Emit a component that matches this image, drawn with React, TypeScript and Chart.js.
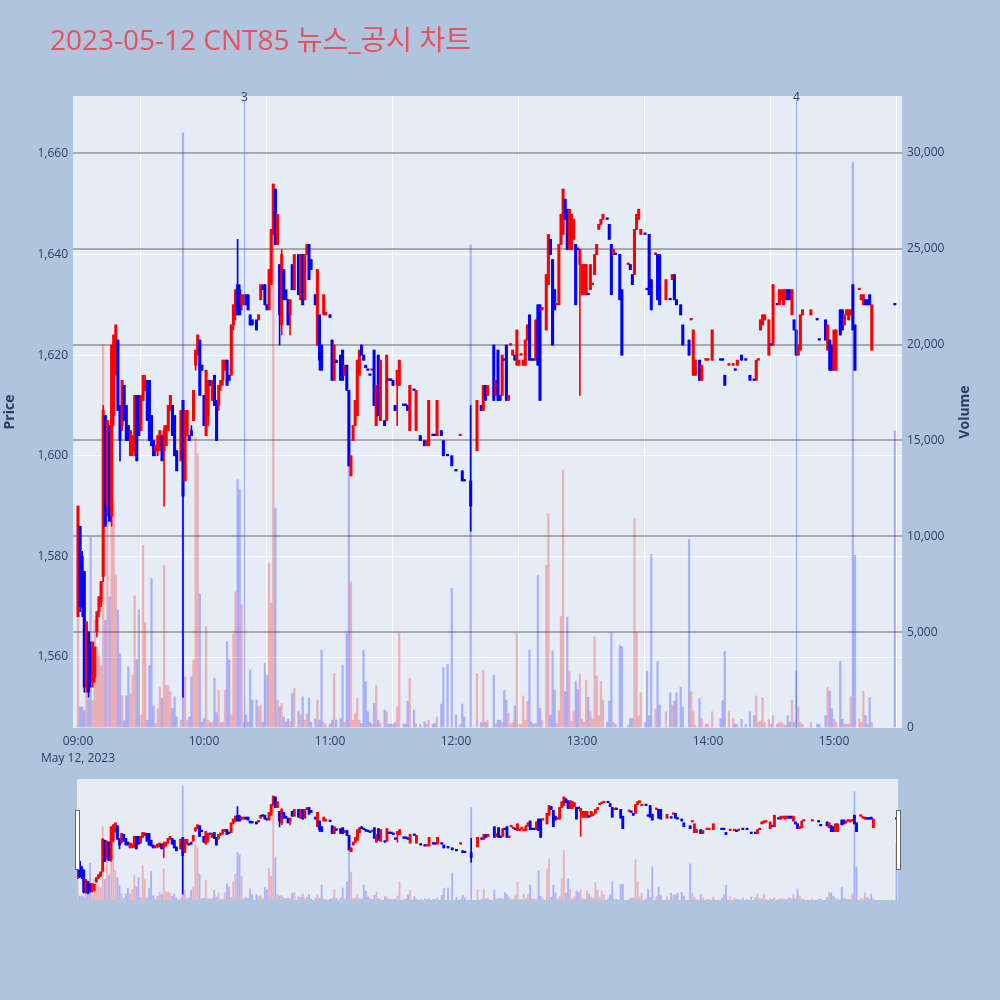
import React, { useEffect, useRef } from "react";
import { Chart, registerables } from "chart.js";

Chart.register(...registerables);

// ---------- data (minutes after 09:00) ----------
const minuteIdx = [
  0, 1, 2, 3, 4, 5, 6, 7, 8, 9,
  10, 11, 12, 13, 14, 15, 16, 17, 18, 19,
  20, 21, 22, 23, 24, 25, 26, 27, 28, 29,
  30, 31, 32, 33, 34, 35, 36, 37, 38, 39,
  40, 41, 42, 43, 44, 45, 46, 47, 49, 50,
  51, 52, 53, 54, 55, 56, 57, 58, 59, 60,
  61, 62, 63, 64, 65, 66, 67, 68, 69, 70,
  71, 72, 73, 74, 75, 76, 77, 78, 79, 80,
  81, 82, 83, 85, 86, 87, 88, 89, 90, 91,
  92, 93, 94, 95, 96, 97, 98, 99, 100, 101,
  102, 103, 105, 106, 107, 108, 109, 110, 111, 113,
  114, 115, 116, 117, 118, 120, 121, 122, 123, 125,
  126, 127, 128, 129, 130, 131, 132, 133, 134, 135,
  136, 137, 138, 139, 140, 141, 142, 143, 144, 146,
  147, 148, 149, 150, 151, 152, 153, 155, 156, 157,
  158, 160, 161, 163, 165, 166, 167, 169, 170, 171,
  173, 174, 176, 178, 180, 182, 183, 184, 187, 190,
  192, 193, 194, 195, 198, 199, 200, 201, 202, 203,
  204, 205, 206, 207, 208, 209, 210, 211, 212, 213,
  214, 215, 216, 217, 218, 219, 220, 221, 223, 224,
  225, 226, 227, 228, 229, 230, 231, 232, 233, 234,
  235, 236, 237, 238, 239, 240, 241, 242, 243, 244,
  245, 246, 247, 248, 249, 250, 252, 253, 254, 255,
  256, 258, 259, 262, 263, 264, 265, 266, 267, 268,
  270, 271, 272, 273, 275, 276, 277, 280, 282, 283,
  284, 285, 287, 288, 291, 292, 293, 294, 296, 297,
  299, 300, 302, 306, 307, 308, 310, 312, 313, 314,
  316, 318, 320, 322, 323, 324, 325, 326, 327, 329,
  330, 331, 333, 334, 335, 336, 337, 338, 339, 340,
  341, 342, 343, 344, 345, 349, 352, 353, 356, 357,
  358, 359, 360, 361, 363, 364, 365, 366, 367, 368,
  369, 370, 372, 373, 374, 375, 376, 377, 378, 389,
];

const openP = [
  1568, 1586, 1580, 1577, 1554, 1565, 1562, 1555, 1556, 1565,
  1569, 1571, 1576, 1608, 1590, 1606, 1588, 1608, 1617, 1623,
  1610, 1606, 1614, 1610, 1606, 1600, 1601, 1601, 1612, 1612,
  1605, 1611, 1613, 1615, 1615, 1608, 1603, 1601, 1601, 1602,
  1604, 1601, 1602, 1605, 1609, 1610, 1608, 1601, 1599, 1611,
  1595, 1604, 1604, 1605, 1607, 1618, 1620, 1623, 1618, 1612,
  1604, 1608, 1615, 1611, 1616, 1611, 1610, 1614, 1615, 1617,
  1619, 1616, 1616, 1626, 1628, 1634, 1633, 1630, 1630, 1632,
  1632, 1628, 1627, 1627, 1627, 1631, 1633.5, 1634, 1630, 1629,
  1634, 1644, 1653, 1642, 1638, 1626, 1637, 1633, 1631, 1628,
  1638, 1633, 1640, 1631, 1640, 1631, 1640, 1642, 1639, 1632,
  1622, 1628, 1622, 1628, 1628, 1628, 1623, 1615, 1619, 1620,
  1621, 1616, 1618, 1613, 1596, 1603, 1606, 1608, 1616, 1622,
  1620, 1618, 1617.2, 1616.2, 1617, 1621, 1606, 1620, 1607, 1607,
  1607, 1615.2, 1615.2, 1615, 1610, 1614, 1614, 1610.2, 1610.2, 1610,
  1605, 1613.2, 1605, 1604, 1603, 1602, 1602, 1604.2, 1604.2, 1604,
  1605, 1603, 1600.2, 1600, 1597.2, 1604, 1597, 1595.2, 1595, 1601,
  1610, 1609, 1614, 1612, 1622, 1612, 1621, 1612, 1612, 1619.2,
  1622, 1611, 1622, 1620, 1620, 1618, 1618, 1620, 1618, 1618,
  1623, 1628, 1619.2, 1619.2, 1619, 1630, 1630, 1629, 1625, 1634,
  1643, 1639, 1633, 1630, 1630, 1642, 1644, 1651, 1649, 1641,
  1641, 1643, 1642, 1641.2, 1638, 1632, 1632, 1632, 1632.2, 1633,
  1634, 1636, 1640, 1645, 1646, 1647, 1647.2, 1646, 1642, 1640,
  1640.2, 1640, 1633, 1638, 1638, 1636, 1636, 1645, 1647, 1644,
  1644.2, 1633.2, 1644, 1635, 1640, 1640, 1640, 1631, 1631.2, 1635,
  1636, 1631, 1630, 1626, 1623, 1627, 1616, 1616, 1619, 1615,
  1619, 1619, 1619, 1619.2, 1619.2, 1616, 1618, 1618, 1617.2, 1618,
  1620, 1619.2, 1616, 1615.2, 1615, 1619, 1625, 1626, 1627, 1620,
  1622.2, 1622, 1630.2, 1630, 1631, 1630, 1631, 1633, 1633, 1628,
  1627, 1625, 1620, 1621, 1628, 1628, 1627.2, 1623.2, 1627, 1621,
  1623, 1622, 1617, 1617, 1629, 1629, 1626, 1628, 1627, 1628,
  1634, 1626, 1633, 1631, 1630, 1631, 1631, 1632, 1621, 1630.3,
];

const highP = [
  1590, 1586, 1581, 1577, 1567, 1565, 1563, 1563, 1562, 1569,
  1572, 1575, 1610, 1608, 1607, 1606, 1622, 1624, 1626, 1623,
  1610, 1615, 1614, 1610, 1606, 1605, 1604, 1612, 1612, 1612,
  1612, 1616, 1616, 1615, 1615, 1608, 1603, 1602, 1604, 1605,
  1604, 1606, 1606, 1610, 1612, 1610, 1608, 1601, 1609, 1611,
  1609, 1609, 1604, 1606, 1613, 1621, 1624, 1623, 1618, 1612,
  1617, 1615, 1615, 1615, 1616, 1611, 1614, 1615, 1619, 1619,
  1619, 1616, 1626, 1630, 1633, 1643, 1634, 1632, 1632, 1632,
  1632, 1628, 1627, 1627, 1628, 1634, 1634, 1634, 1630, 1637,
  1645, 1654, 1653, 1648, 1638, 1641, 1637, 1633, 1631, 1631,
  1638, 1640, 1640, 1640, 1640, 1640, 1642, 1642, 1639, 1632,
  1637, 1628, 1622, 1632, 1628.5, 1628, 1623, 1622, 1619, 1620,
  1621, 1618, 1618, 1613, 1600, 1606, 1611, 1619, 1621, 1622,
  1620, 1618, 1617.2, 1616.2, 1617.2, 1621, 1614, 1620, 1619, 1607,
  1620, 1615.2, 1615.2, 1615, 1610, 1617, 1619, 1610.2, 1610.2, 1610,
  1614, 1613.2, 1613, 1604, 1603, 1603, 1611, 1604.2, 1604.2, 1611,
  1605, 1603, 1600.2, 1600, 1597.2, 1604.2, 1597, 1595.2, 1610, 1611,
  1610, 1614, 1614, 1614, 1622, 1615, 1621, 1612, 1620, 1619.2,
  1622, 1612, 1622.2, 1621, 1620, 1625, 1619, 1620.2, 1619, 1623,
  1626, 1628, 1619.2, 1619.2, 1627, 1630, 1630, 1629.5, 1636, 1644,
  1643, 1639, 1633, 1630.3, 1642, 1648, 1653, 1651, 1649, 1649,
  1648, 1647, 1642, 1641.2, 1641, 1638, 1638, 1638, 1632.2, 1638,
  1634.3, 1640, 1642, 1646, 1647, 1648, 1647.2, 1646, 1642, 1641,
  1640.2, 1640, 1633, 1638.3, 1638, 1636, 1645, 1648, 1649, 1645,
  1644.2, 1633.2, 1644, 1635, 1640.3, 1640, 1640, 1635, 1631.2, 1636,
  1636, 1631, 1630, 1626, 1623, 1627.3, 1625, 1619, 1619, 1618,
  1619.3, 1619.3, 1625, 1619.2, 1619.2, 1616, 1618.3, 1618.3, 1617.2, 1619,
  1620, 1619.2, 1616, 1615.2, 1619, 1619.3, 1627, 1628, 1628, 1627,
  1622.2, 1634, 1630.2, 1633, 1633, 1633, 1633, 1633, 1633, 1633,
  1627, 1625, 1622, 1628, 1629, 1629, 1627.2, 1623.2, 1627, 1626,
  1623, 1622, 1625, 1625, 1629, 1629, 1628, 1629, 1629, 1629,
  1634, 1626, 1633.3, 1632, 1632, 1631, 1631, 1632, 1630, 1630.3,
];

const lowP = [
  1568, 1569, 1568, 1553, 1553, 1552, 1554, 1554, 1555, 1564,
  1568, 1570, 1575, 1586, 1588, 1587, 1586, 1606, 1616, 1609,
  1599, 1605, 1607, 1603, 1603, 1600, 1600, 1600, 1599, 1604,
  1605, 1611, 1613, 1607, 1603, 1602, 1600, 1600, 1600, 1601,
  1599, 1590, 1602, 1605, 1609, 1604, 1600, 1597, 1599, 1552,
  1595, 1604, 1603, 1604, 1607, 1617, 1620, 1612, 1617, 1606,
  1604, 1606, 1614, 1611, 1610, 1603, 1609, 1613, 1614, 1617,
  1614, 1615, 1616, 1625, 1627, 1628, 1628, 1629, 1630, 1630,
  1629, 1626, 1626, 1625, 1627, 1631, 1633, 1630, 1629, 1629,
  1634, 1644, 1642, 1642, 1622, 1624, 1631, 1631, 1626, 1624,
  1633, 1633, 1632, 1631, 1630, 1631, 1640, 1635, 1637, 1630,
  1622, 1617, 1617, 1628, 1628, 1627.5, 1615, 1615, 1618.5, 1615,
  1615, 1616, 1613, 1598, 1596, 1603, 1606, 1608, 1616, 1620,
  1619, 1617.5, 1617, 1616, 1617, 1610, 1606, 1608, 1607, 1606,
  1607, 1615, 1615, 1614, 1609, 1606, 1614, 1610, 1610, 1609,
  1605, 1613, 1605, 1603, 1602, 1602, 1602, 1604, 1604, 1604,
  1604, 1600, 1600, 1598, 1597, 1604, 1595, 1595, 1585, 1601,
  1609, 1609, 1611, 1612, 1611, 1612, 1611, 1611, 1612, 1619,
  1611, 1611, 1622, 1620, 1619, 1618, 1618, 1620, 1618, 1618,
  1623, 1619, 1619, 1619, 1619, 1618, 1611, 1629, 1625, 1634,
  1640, 1622, 1629, 1630, 1630, 1642, 1644, 1647, 1641, 1641,
  1641, 1643, 1630, 1641, 1612, 1632, 1632, 1632, 1632, 1633,
  1634, 1636, 1640, 1645, 1646, 1647, 1647, 1643, 1632, 1640,
  1640, 1631, 1620, 1638, 1637, 1634, 1636, 1645, 1647, 1644,
  1644, 1633, 1632, 1629, 1640, 1631, 1630, 1631, 1631, 1635,
  1631, 1630, 1628, 1622, 1620, 1627, 1616, 1616, 1615, 1615,
  1619, 1619, 1619, 1619, 1619, 1614, 1618, 1618, 1617, 1618,
  1619, 1619, 1615, 1615, 1615, 1619, 1625, 1626, 1627, 1620,
  1622, 1622, 1630, 1630, 1631, 1630, 1631, 1631, 1631, 1628,
  1625, 1620, 1620, 1621, 1628, 1628, 1627, 1623, 1623, 1621,
  1617, 1617, 1617, 1617, 1624, 1625, 1626, 1628, 1627, 1628,
  1625, 1617, 1633, 1631, 1630, 1630, 1630, 1630, 1621, 1630,
];

const closeP = [
  1590, 1570, 1570, 1554, 1567, 1553, 1556, 1563, 1562, 1569,
  1572, 1575, 1609, 1586, 1607, 1587, 1622, 1624, 1626, 1609,
  1603, 1615, 1607, 1603, 1603, 1605, 1604, 1612, 1599, 1604,
  1612, 1616, 1615, 1607, 1603, 1602, 1600, 1602, 1604, 1605,
  1599, 1605, 1606, 1610, 1612, 1604, 1600, 1597, 1609, 1592,
  1609, 1609, 1603, 1604, 1613, 1621, 1624, 1612, 1617, 1606,
  1617, 1615, 1614, 1615, 1610, 1603, 1614, 1615, 1619, 1619,
  1614, 1615, 1626, 1630, 1633, 1628, 1628, 1632, 1632, 1630,
  1629, 1626, 1626, 1625, 1628, 1634, 1633, 1630, 1629, 1637,
  1645, 1654, 1642, 1648, 1628, 1640, 1631, 1631, 1626, 1631,
  1633, 1640, 1632, 1640, 1630, 1640, 1642, 1635, 1637, 1630,
  1637, 1619, 1617, 1632, 1628.5, 1627.5, 1615, 1622, 1618.5, 1615,
  1615, 1618, 1613, 1598, 1600, 1606, 1611, 1619, 1621, 1620,
  1619, 1617.5, 1617, 1616, 1617.2, 1610, 1614, 1608, 1619, 1606,
  1620, 1615, 1615, 1614, 1609, 1617, 1619, 1610, 1610, 1609,
  1614, 1613, 1613, 1603, 1602, 1603, 1611, 1604, 1604, 1611,
  1604, 1600, 1600, 1598, 1597, 1604.2, 1595, 1595, 1590, 1611,
  1609, 1614, 1611, 1614, 1611, 1615, 1611, 1611, 1620, 1619,
  1611, 1612, 1622.2, 1621, 1619, 1625, 1619, 1620.2, 1619, 1623,
  1626, 1619, 1619, 1619, 1627, 1618, 1611, 1629.5, 1636, 1644,
  1640, 1622, 1629, 1630.3, 1642, 1648, 1653, 1647, 1641, 1649,
  1648, 1647, 1630, 1641, 1641, 1638, 1638, 1638, 1632, 1638,
  1634.3, 1640, 1642, 1646, 1647, 1648, 1647, 1643, 1632, 1641,
  1640, 1631, 1620, 1638.3, 1637, 1634, 1645, 1648, 1649, 1645,
  1644, 1633, 1632, 1629, 1640.3, 1631, 1630, 1635, 1631, 1636,
  1631, 1630, 1628, 1622, 1620, 1627.3, 1625, 1619, 1615, 1618,
  1619.3, 1619.3, 1625, 1619, 1619, 1614, 1618.3, 1618.3, 1617, 1619,
  1619, 1619, 1615, 1615, 1619, 1619.3, 1627, 1628, 1628, 1627,
  1622, 1634, 1630, 1633, 1633, 1633, 1633, 1631, 1631, 1633,
  1625, 1620, 1622, 1628, 1629, 1629, 1627, 1623, 1623, 1626,
  1617, 1617, 1625, 1625, 1624, 1625, 1628, 1629, 1629, 1629,
  1625, 1617, 1633.3, 1632, 1632, 1630, 1630, 1630, 1630, 1630,
];

const volume = [
  5700, 1100, 1100, 900, 2000, 1500, 9960, 1440, 5630, 4240,
  3720, 3280, 20000, 5620, 14000, 6840, 12500, 11800, 8000, 6150,
  3880, 1680, 380, 1680, 3200, 1780, 2760, 6900, 3580, 6150,
  680, 9530, 5500, 400, 3280, 7800, 1140, 240, 1020, 2140,
  1550, 8480, 2230, 2230, 1890, 1020, 1630, 580, 410, 31050,
  2670, 400, 580, 2670, 3540, 15150, 14300, 7000, 300, 500,
  5300, 400, 280, 300, 2600, 800, 1960, 300, 300, 1960,
  4500, 3560, 680, 4900, 7100, 12950, 12430, 6420, 300, 680,
  300, 3030, 1460, 1460, 1110, 1190, 300, 3370, 2760, 8570,
  6500, 28000, 11470, 1460, 1110, 1280, 580, 300, 470, 350,
  1800, 2070, 850, 680, 1630, 410, 750, 1550, 300, 470,
  1460, 410, 4060, 300, 200, 200, 410, 2850, 410, 500,
  3280, 300, 4950, 14800, 7620, 410, 750, 1550, 410, 240,
  4060, 2410, 850, 300, 200, 1280, 2240, 410, 240, 940,
  850, 200, 200, 200, 300, 1110, 4930, 200, 200, 1400,
  2600, 940, 240, 200, 330, 200, 410, 200, 240, 580,
  1250, 3150, 3320, 7290, 680, 200, 1250, 580, 25200, 2850,
  300, 3020, 300, 410, 2760, 240, 410, 410, 300, 1960,
  1460, 780, 200, 300, 1140, 4930, 200, 200, 1670, 410,
  1390, 4060, 300, 200, 240, 7970, 1020, 410, 8490, 11180,
  680, 4030, 1960, 240, 920, 5820, 13470, 1890, 5790, 2930,
  350, 850, 2450, 2000, 2790, 470, 300, 2500, 1600, 850,
  470, 4760, 2720, 650, 2430, 1460, 300, 1410, 4960, 300,
  200, 4320, 4240, 150, 500, 500, 10950, 5000, 650, 1840,
  300, 2970, 650, 9060, 990, 3470, 1200, 850, 1840, 1200,
  1400, 1840, 2140, 1100, 9840, 1890, 850, 150, 1550, 500,
  200, 200, 850, 500, 1420, 3990, 850, 500, 200, 200,
  450, 200, 850, 650, 1670, 300, 350, 1590, 300, 450,
  200, 650, 200, 300, 300, 200, 150, 650, 300, 1460,
  300, 2980, 1100, 300, 200, 300, 200, 200, 650, 2140,
  1920, 1000, 450, 300, 3470, 450, 200, 200, 200, 1630,
  29500, 9010, 450, 300, 1910, 650, 200, 1590, 300, 15500,
];

const hourLabels = ["09:00", "10:00", "11:00", "12:00", "13:00", "14:00", "15:00"];
const hourTicks = [0, 60, 120, 180, 240, 300, 360];
const priceTicks = [1560, 1580, 1600, 1620, 1640, 1660];
const volumeTicks = [0, 5000, 10000, 15000, 20000, 25000, 30000];
const sessionDate = "May 12, 2023";
const chartTitle = "2023-05-12 CNT85 뉴스_공시 차트";
const newsMinutes = [78.9, 341.9];
const newsLabels = ["3", "4"];

// ---------- styling ----------
const FONT = '"Open Sans", "Noto Sans CJK KR", sans-serif';
const TEXT = "#2a3f5f";
const PLOT_BG = "#e5ecf6";
const PAGE_BG = "#b0c4de";
const UP = "#ff0000";
const DOWN = "#0000ff";
const UP_VOL = "rgba(255,0,0,0.25)";
const DOWN_VOL = "rgba(0,0,255,0.25)";

function buildDatasets(bodyW: number, wickW: number, volW: number) {
  const isUp = minuteIdx.map((_, i) => closeP[i] >= openP[i]);
  return [
    {
      label: "Volume",
      yAxisID: "yv",
      order: 3,
      grouped: false,
      barThickness: volW,
      borderWidth: 0,
      data: minuteIdx.map((m, i) => ({ x: m, y: volume[i] })),
      backgroundColor: isUp.map((u) => (u ? UP_VOL : DOWN_VOL)),
    },
    {
      label: "Wick",
      yAxisID: "y",
      order: 2,
      grouped: false,
      barThickness: wickW,
      minBarLength: 1,
      borderWidth: 0,
      data: minuteIdx.map((m, i) => ({ x: m, y: [lowP[i], highP[i]] })),
      backgroundColor: isUp.map((u) => (u ? UP : DOWN)),
    },
    {
      label: "Body",
      yAxisID: "y",
      order: 1,
      grouped: false,
      barThickness: bodyW,
      minBarLength: 1.5,
      borderWidth: 0,
      data: minuteIdx.map((m, i) => ({
        x: m,
        y: [Math.min(openP[i], closeP[i]), Math.max(openP[i], closeP[i])],
      })),
      backgroundColor: isUp.map((u) => (u ? UP : DOWN)),
    },
  ];
}

const fmt = (v: number) => Number(v).toLocaleString("en-US");
const setTicks = (vals: number[]) => (s: any) => {
  s.ticks = vals.map((v) => ({ value: v }));
};

const mainDecor = {
  id: "mainDecor",
  beforeDraw(chart: any) {
    const { ctx, chartArea: a } = chart;
    ctx.save();
    ctx.fillStyle = PLOT_BG;
    ctx.fillRect(a.left, a.top, a.right - a.left, a.bottom - a.top);
    ctx.restore();
  },
  afterDatasetsDraw(chart: any) {
    const { ctx, chartArea: a } = chart;
    const xs = chart.scales.x;
    ctx.save();
    newsMinutes.forEach((m, i) => {
      const px = Math.round(xs.getPixelForValue(m)) + 0.5;
      ctx.strokeStyle = "rgba(80,110,235,0.55)";
      ctx.lineWidth = 1;
      ctx.beginPath();
      ctx.moveTo(px, a.top + 4);
      ctx.lineTo(px, a.bottom);
      ctx.stroke();
      ctx.fillStyle = TEXT;
      ctx.font = "12px " + FONT;
      ctx.textAlign = "center";
      ctx.textBaseline = "alphabetic";
      ctx.fillText(newsLabels[i], px, a.top + 4.5);
    });
    ctx.restore();
  },
  afterDraw(chart: any) {
    const { ctx, chartArea: a } = chart;
    const midY = (a.top + a.bottom) / 2;
    ctx.save();
    ctx.fillStyle = "#e8505b";
    ctx.font = "28px " + FONT;
    ctx.textAlign = "left";
    ctx.textBaseline = "alphabetic";
    ctx.fillText(chartTitle, 50, 50);
    ctx.restore();

    ctx.save();
    ctx.fillStyle = TEXT;
    ctx.font = "bold 14px " + FONT;
    ctx.textAlign = "center";
    ctx.textBaseline = "middle";
    ctx.translate(10, midY);
    ctx.rotate(-Math.PI / 2);
    ctx.fillText("Price", 0, 0);
    ctx.restore();

    ctx.save();
    ctx.fillStyle = TEXT;
    ctx.font = "bold 14px " + FONT;
    ctx.textAlign = "center";
    ctx.textBaseline = "middle";
    ctx.translate(965, midY);
    ctx.rotate(-Math.PI / 2);
    ctx.fillText("Volume", 0, 0);
    ctx.restore();
  },
};

const sliderDecor = {
  id: "sliderDecor",
  beforeDraw(chart: any) {
    const { ctx, chartArea: a } = chart;
    ctx.save();
    ctx.fillStyle = PLOT_BG;
    ctx.fillRect(a.left, a.top, a.right - a.left, a.bottom - a.top);
    ctx.restore();
  },
  afterDraw(chart: any) {
    const { ctx, chartArea: a } = chart;
    ctx.save();
    ctx.fillStyle = "#ffffff";
    ctx.strokeStyle = "#666666";
    ctx.lineWidth = 1;
    const hy = 31.5;
    const hh = 59;
    [a.left - 2.5, a.right - 2.5].forEach((hx) => {
      ctx.fillRect(Math.round(hx) + 0.5, hy, 4, hh);
      ctx.strokeRect(Math.round(hx) + 0.5, hy, 4, hh);
    });
    ctx.restore();
  },
};

export default function App() {
  const mainRef = useRef<HTMLCanvasElement | null>(null);
  const sliderRef = useRef<HTMLCanvasElement | null>(null);

  useEffect(() => {
    document.body.style.margin = "0";
    Chart.defaults.font.family = FONT;

    const tickFont = { family: FONT, size: 12, lineHeight: 1.4 };

    const main = new Chart(mainRef.current as HTMLCanvasElement, {
      type: "bar",
      data: { datasets: buildDatasets(2.4, 1, 1.6) as any },
      options: {
        responsive: false,
        animation: false,
        events: [],
        layout: { padding: { top: 96, left: 0, right: 0, bottom: 0 } },
        plugins: { legend: { display: false }, tooltip: { enabled: false }, title: { display: false } },
        scales: {
          x: {
            type: "linear",
            min: -2.38,
            max: 392.4,
            offset: false,
            border: { display: false },
            grid: { color: "#ffffff", lineWidth: 1, drawTicks: false },
            afterBuildTicks: setTicks(hourTicks),
            ticks: {
              autoSkip: false,
              maxRotation: 0,
              minRotation: 0,
              padding: 5,
              color: TEXT,
              font: tickFont,
              callback: (v: any) => {
                const idx = hourTicks.indexOf(Number(v));
                const lab = hourLabels[idx] ?? "";
                return idx === 0 ? [lab, sessionDate] : lab;
              },
            },
            afterFit: (s: any) => {
              s.height = 52;
            },
          },
          y: {
            type: "linear",
            position: "left",
            min: 1545.9,
            max: 1671.5,
            border: { display: false },
            grid: { color: "#ffffff", lineWidth: 1, drawTicks: false },
            afterBuildTicks: setTicks(priceTicks),
            ticks: {
              autoSkip: false,
              padding: 5,
              color: TEXT,
              font: tickFont,
              callback: (v: any) => fmt(v),
            },
            afterFit: (s: any) => {
              s.width = 73;
            },
          },
          yv: {
            type: "linear",
            position: "right",
            min: 0,
            max: 32970,
            border: { display: false },
            grid: {
              color: (c: any) =>
                c.tick && c.tick.value === 0 ? "rgba(0,0,0,0)" : "rgba(128,128,128,0.62)",
              lineWidth: 2,
              drawTicks: false,
            },
            afterBuildTicks: setTicks(volumeTicks),
            ticks: {
              autoSkip: false,
              padding: 5,
              color: TEXT,
              font: tickFont,
              callback: (v: any) => fmt(v),
            },
            afterFit: (s: any) => {
              s.width = 98;
            },
          },
        },
      } as any,
      plugins: [mainDecor],
    });

    const slider = new Chart(sliderRef.current as HTMLCanvasElement, {
      type: "bar",
      data: { datasets: buildDatasets(2.2, 1, 1.2) as any },
      options: {
        responsive: false,
        animation: false,
        events: [],
        layout: { padding: { top: 0, left: 77, right: 102, bottom: 0 } },
        plugins: { legend: { display: false }, tooltip: { enabled: false }, title: { display: false } },
        scales: {
          x: { type: "linear", min: -0.2, max: 389.7, offset: false, display: false },
          y: { type: "linear", min: 1545.8, max: 1671.7, display: false },
          yv: { type: "linear", min: 0, max: 32960, display: false },
        },
      } as any,
      plugins: [sliderDecor],
    });

    return () => {
      main.destroy();
      slider.destroy();
    };
  }, []);

  return (
    <div
      style={{
        position: "fixed",
        left: 0,
        top: 0,
        width: 1000,
        height: 1000,
        background: PAGE_BG,
        overflow: "hidden",
      }}
    >
      <canvas
        ref={mainRef}
        width={1000}
        height={780}
        style={{ position: "absolute", left: 0, top: 0, width: 1000, height: 780 }}
      />
      <canvas
        ref={sliderRef}
        width={1000}
        height={121}
        style={{ position: "absolute", left: 0, top: 779, width: 1000, height: 121 }}
      />
    </div>
  );
}
